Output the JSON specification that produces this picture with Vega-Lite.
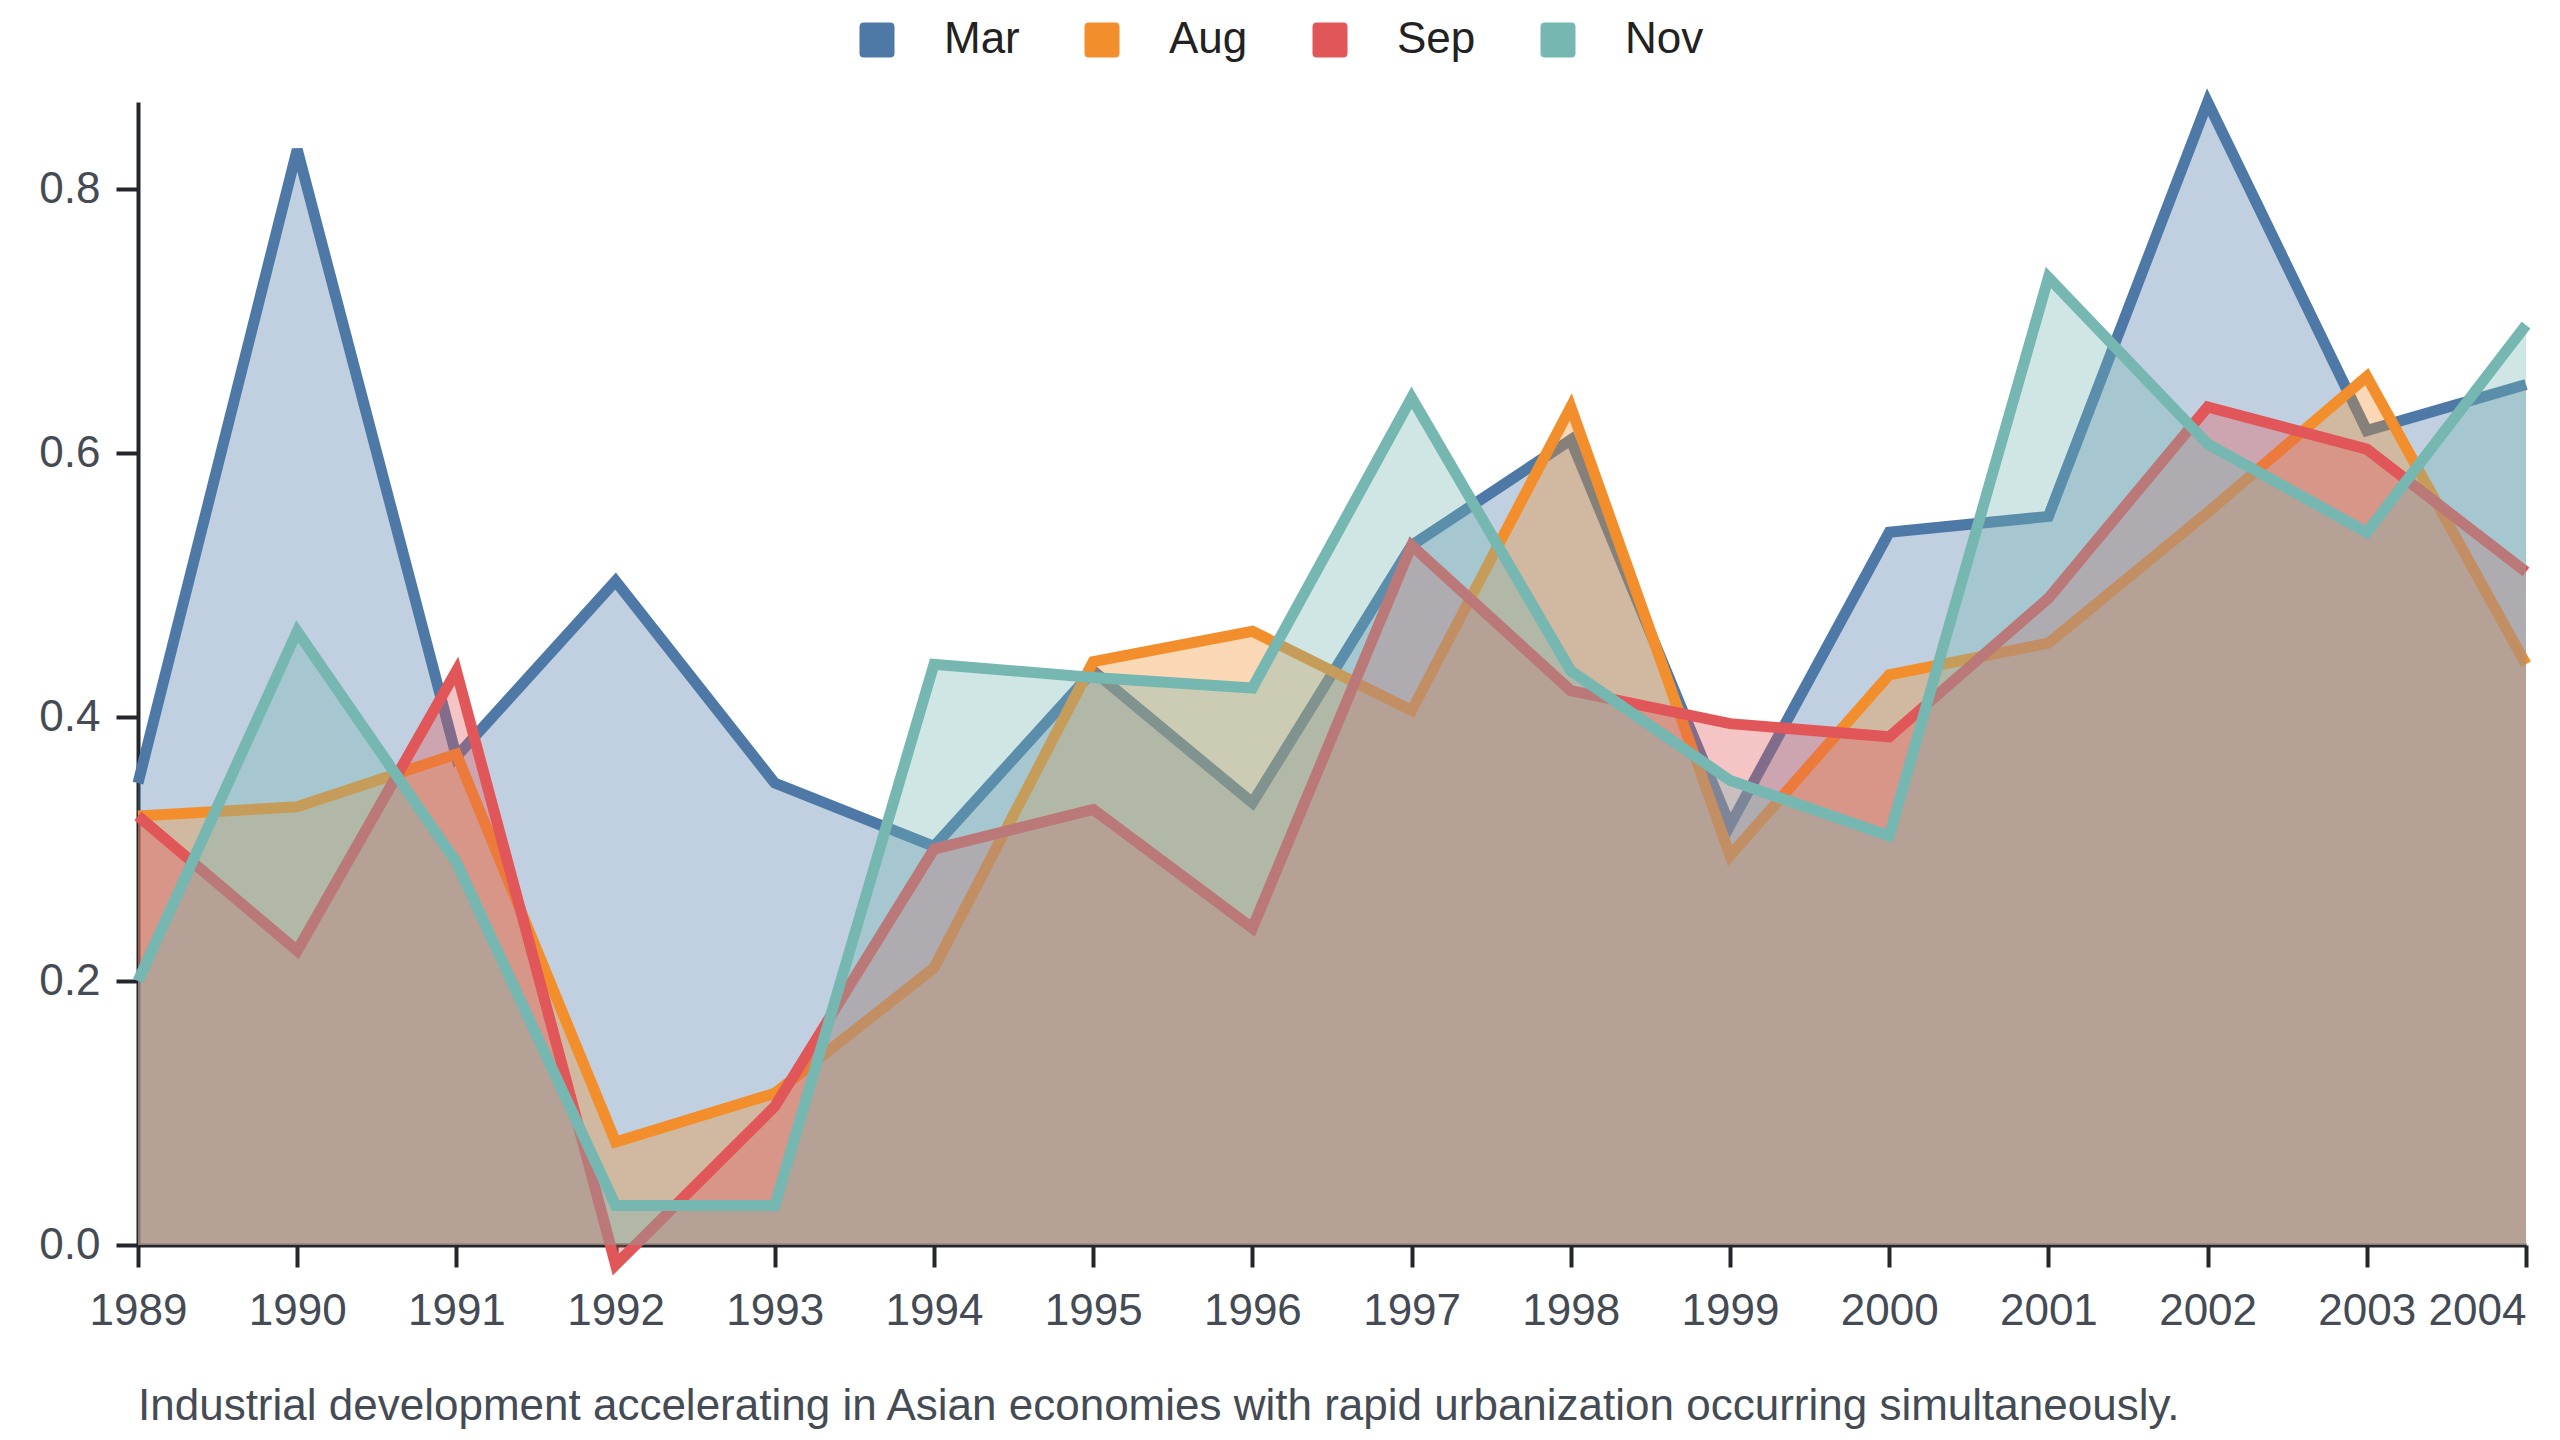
{
  "$schema": "https://vega.github.io/schema/vega-lite/v6.json",
  "description": "Monthly index by year, overlapping areas for Mar, Aug, Sep and Nov.",
  "width": 2388,
  "height": 1143,
  "autosize": {"type": "none"},
  "padding": {"left": 138, "top": 102, "right": 34, "bottom": 195},
  "background": "white",
  "title": {
    "text": "Industrial development accelerating in Asian economies with rapid urbanization occurring simultaneously.",
    "orient": "bottom",
    "anchor": "start",
    "frame": "group",
    "offset": 52,
    "font": "Liberation Sans",
    "fontSize": 44,
    "fontWeight": "normal",
    "color": "#454b54"
  },
  "data": {
    "values": [
      {"year": 1989, "month": "Mar", "value": 0.35},
      {"year": 1990, "month": "Mar", "value": 0.83},
      {"year": 1991, "month": "Mar", "value": 0.37},
      {"year": 1992, "month": "Mar", "value": 0.503},
      {"year": 1993, "month": "Mar", "value": 0.35},
      {"year": 1994, "month": "Mar", "value": 0.302},
      {"year": 1995, "month": "Mar", "value": 0.435},
      {"year": 1996, "month": "Mar", "value": 0.335},
      {"year": 1997, "month": "Mar", "value": 0.53},
      {"year": 1998, "month": "Mar", "value": 0.61},
      {"year": 1999, "month": "Mar", "value": 0.318},
      {"year": 2000, "month": "Mar", "value": 0.54},
      {"year": 2001, "month": "Mar", "value": 0.552},
      {"year": 2002, "month": "Mar", "value": 0.866},
      {"year": 2003, "month": "Mar", "value": 0.617},
      {"year": 2004, "month": "Mar", "value": 0.652},
      {"year": 1989, "month": "Aug", "value": 0.325},
      {"year": 1990, "month": "Aug", "value": 0.332},
      {"year": 1991, "month": "Aug", "value": 0.372},
      {"year": 1992, "month": "Aug", "value": 0.078},
      {"year": 1993, "month": "Aug", "value": 0.115},
      {"year": 1994, "month": "Aug", "value": 0.21},
      {"year": 1995, "month": "Aug", "value": 0.442},
      {"year": 1996, "month": "Aug", "value": 0.465},
      {"year": 1997, "month": "Aug", "value": 0.405},
      {"year": 1998, "month": "Aug", "value": 0.635},
      {"year": 1999, "month": "Aug", "value": 0.295},
      {"year": 2000, "month": "Aug", "value": 0.432},
      {"year": 2001, "month": "Aug", "value": 0.456},
      {"year": 2002, "month": "Aug", "value": 0.555},
      {"year": 2003, "month": "Aug", "value": 0.658},
      {"year": 2004, "month": "Aug", "value": 0.44},
      {"year": 1989, "month": "Sep", "value": 0.325},
      {"year": 1990, "month": "Sep", "value": 0.223},
      {"year": 1991, "month": "Sep", "value": 0.435},
      {"year": 1992, "month": "Sep", "value": -0.015},
      {"year": 1993, "month": "Sep", "value": 0.105},
      {"year": 1994, "month": "Sep", "value": 0.3},
      {"year": 1995, "month": "Sep", "value": 0.33},
      {"year": 1996, "month": "Sep", "value": 0.24},
      {"year": 1997, "month": "Sep", "value": 0.53},
      {"year": 1998, "month": "Sep", "value": 0.42},
      {"year": 1999, "month": "Sep", "value": 0.395},
      {"year": 2000, "month": "Sep", "value": 0.385},
      {"year": 2001, "month": "Sep", "value": 0.49},
      {"year": 2002, "month": "Sep", "value": 0.635},
      {"year": 2003, "month": "Sep", "value": 0.603},
      {"year": 2004, "month": "Sep", "value": 0.51},
      {"year": 1989, "month": "Nov", "value": 0.2},
      {"year": 1990, "month": "Nov", "value": 0.465},
      {"year": 1991, "month": "Nov", "value": 0.29},
      {"year": 1992, "month": "Nov", "value": 0.03},
      {"year": 1993, "month": "Nov", "value": 0.03},
      {"year": 1994, "month": "Nov", "value": 0.44},
      {"year": 1995, "month": "Nov", "value": 0.43},
      {"year": 1996, "month": "Nov", "value": 0.422},
      {"year": 1997, "month": "Nov", "value": 0.642},
      {"year": 1998, "month": "Nov", "value": 0.435},
      {"year": 1999, "month": "Nov", "value": 0.352},
      {"year": 2000, "month": "Nov", "value": 0.31},
      {"year": 2001, "month": "Nov", "value": 0.733},
      {"year": 2002, "month": "Nov", "value": 0.607},
      {"year": 2003, "month": "Nov", "value": 0.54},
      {"year": 2004, "month": "Nov", "value": 0.697}
    ]
  },
  "encoding": {
    "x": {
      "field": "year",
      "type": "quantitative",
      "title": null,
      "scale": {"domain": [1989, 2004], "nice": false, "zero": false},
      "axis": {
        "values": [1989, 1990, 1991, 1992, 1993, 1994, 1995, 1996, 1997, 1998, 1999, 2000, 2001, 2002, 2003, 2004],
        "format": "d",
        "labelAlign": {"expr": "datum.value == 2004 ? 'right' : 'center'"},
        "labelPadding": 22
      }
    },
    "y": {
      "field": "value",
      "type": "quantitative",
      "title": null,
      "scale": {"domain": [0, 0.866], "nice": false, "zero": false},
      "axis": {"values": [0, 0.2, 0.4, 0.6, 0.8], "format": ".1f", "labelPadding": 16}
    },
    "color": {
      "field": "month",
      "type": "nominal",
      "title": null,
      "scale": {
        "domain": ["Mar", "Aug", "Sep", "Nov"],
        "range": ["#4e79a7", "#f28e2b", "#e15759", "#76b7b2"]
      },
      "legend": {
        "orient": "none",
        "direction": "horizontal",
        "legendX": 717,
        "legendY": -84,
        "symbolType": "M-1,-0.75Q-1,-1,-0.75,-1L0.75,-1Q1,-1,1,-0.75L1,0.75Q1,1,0.75,1L-0.75,1Q-1,1,-1,0.75Z",
        "symbolSize": 1225,
        "symbolOpacity": 1,
        "symbolStrokeWidth": 0,
        "labelOffset": 45,
        "columnPadding": 60,
        "labelFont": "Liberation Sans",
        "labelFontSize": 44,
        "labelColor": "#222222",
        "padding": 0,
        "encode": {
          "symbols": {
            "update": {
              "fill": {"scale": "color", "field": "value"},
              "fillOpacity": {"value": 1},
              "strokeWidth": {"value": 0}
            }
          }
        }
      }
    }
  },
  "layer": [
    {"transform": [{"filter": "datum.month == 'Mar'"}], "mark": {"type": "area", "fillOpacity": 0.35}},
    {"transform": [{"filter": "datum.month == 'Mar'"}], "mark": {"type": "line", "strokeWidth": 11}},
    {"transform": [{"filter": "datum.month == 'Aug'"}], "mark": {"type": "area", "fillOpacity": 0.35}},
    {"transform": [{"filter": "datum.month == 'Aug'"}], "mark": {"type": "line", "strokeWidth": 11}},
    {"transform": [{"filter": "datum.month == 'Sep'"}], "mark": {"type": "area", "fillOpacity": 0.35}},
    {"transform": [{"filter": "datum.month == 'Sep'"}], "mark": {"type": "line", "strokeWidth": 11}},
    {"transform": [{"filter": "datum.month == 'Nov'"}], "mark": {"type": "area", "fillOpacity": 0.35}},
    {"transform": [{"filter": "datum.month == 'Nov'"}], "mark": {"type": "line", "strokeWidth": 11}}
  ],
  "config": {
    "font": "Liberation Sans",
    "view": {"stroke": null},
    "axis": {
      "grid": false,
      "domainColor": "#23262b",
      "domainWidth": 4,
      "tickColor": "#23262b",
      "tickWidth": 4,
      "tickSize": 22,
      "labelFont": "Liberation Sans",
      "labelFontSize": 44,
      "labelColor": "#454b54"
    }
  }
}
